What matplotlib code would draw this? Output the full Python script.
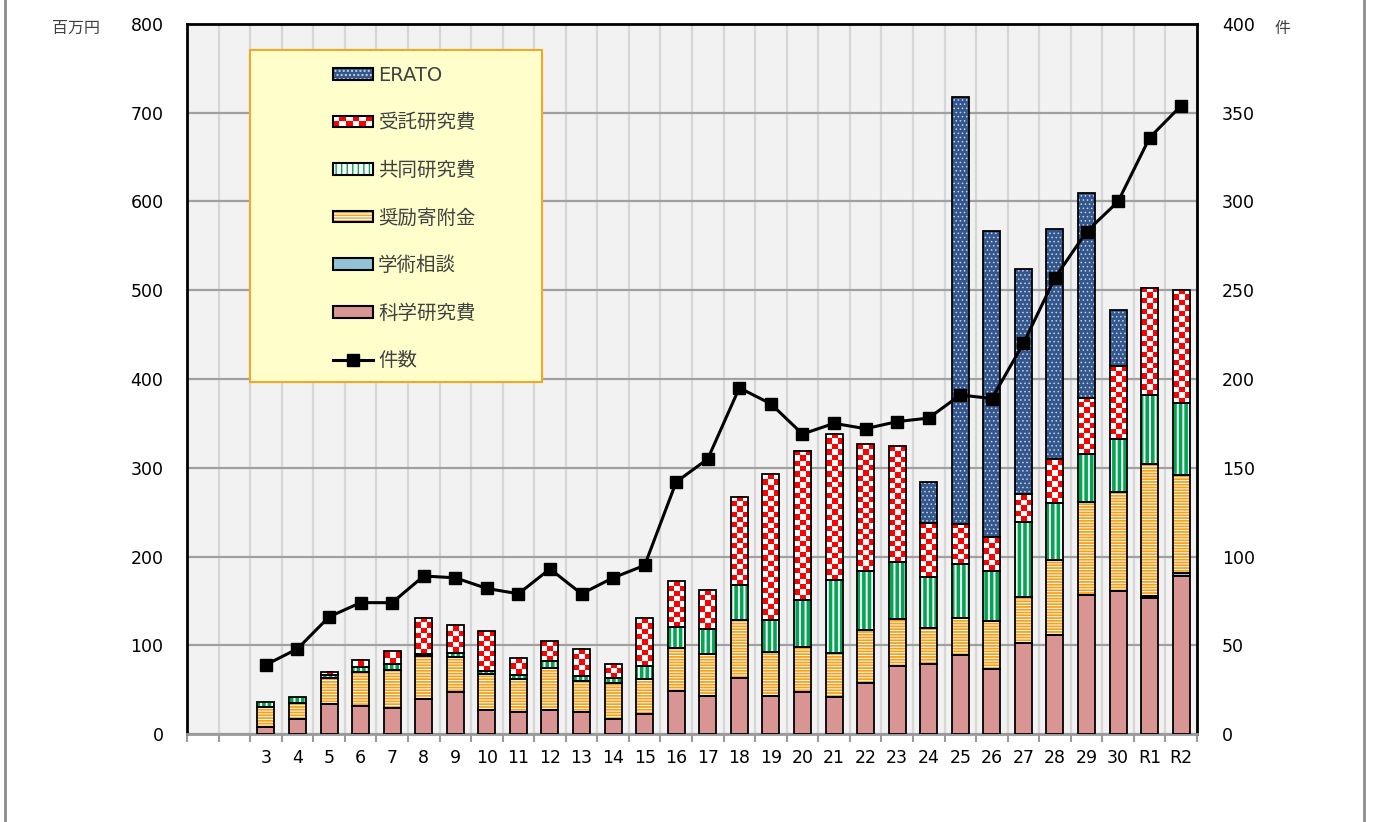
import numpy as np
import matplotlib
matplotlib.use("Agg")
import matplotlib.pyplot as plt
from matplotlib.patches import Rectangle, Patch
from matplotlib.lines import Line2D
from matplotlib.colors import ListedColormap
from matplotlib.legend_handler import HandlerBase

plt.rcParams['font.family'] = ['DejaVu Sans', 'Noto Sans CJK JP']

# ---------------- data ----------------
categories = ['3', '4', '5', '6', '7', '8', '9', '10', '11', '12', '13', '14', '15', '16',
              '17', '18', '19', '20', '21', '22', '23', '24', '25', '26', '27', '28', '29',
              '30', 'R1', 'R2']
kaken = [8, 17, 34, 32, 29, 39, 47, 27, 25, 27, 25, 17, 22, 48.5, 42.5, 63, 42.5, 47, 41.7,
         57, 76.6, 79.3, 88.5, 73, 102, 111, 157, 161, 153.5, 178]
gakujutsu = [0, 0, 0, 0, 0, 0, 0, 0, 0, 0, 0, 0, 0, 0, 0, 0, 0, 0, 0, 0, 0, 0, 0, 0, 0, 0,
             0, 0, 2.5, 3.4]
shorei = [22, 18, 29, 38, 43, 49, 40, 41, 37, 47, 35, 40, 40, 48.5, 48, 65, 50, 51, 50, 60,
          52.6, 40.6, 42, 54, 52, 85.6, 104, 111.5, 147.7, 110.6]
kyodo = [6, 7, 3, 5, 7, 2, 4.5, 3, 4.5, 8.6, 5, 6, 15, 23.7, 28, 39.5, 36.5, 52.5, 82, 66.5,
         64.6, 57, 60.6, 57, 85, 63.5, 54, 59.6, 78, 81]
jutaku = [0, 0, 4, 8, 14, 41, 31, 45, 19.5, 22, 31, 16, 54, 51.5, 44, 100, 163.5, 168, 164.6,
          143, 130.7, 61.3, 45.5, 38, 31, 49.5, 63.5, 82.2, 121, 127.6]
erato = [0, 0, 0, 0, 0, 0, 0, 0, 0, 0, 0, 0, 0, 0, 0, 0, 0, 0, 0, 0, 0, 45.8, 481.6, 345,
         254, 259.7, 231.3, 63, 0, 0]
counts = [39, 48, 66, 74, 74, 89, 88, 82, 79, 93, 79, 88, 95, 142, 155, 195, 186, 169, 175,
          172, 176, 178, 191, 189, 220, 257, 283, 300, 336, 354]

left_ticks = [0, 100, 200, 300, 400, 500, 600, 700, 800]
right_ticks = [0, 50, 100, 150, 200, 250, 300, 350, 400]

# ---------------- styles ----------------
W, H = 1373, 822
def fx(px): return px / W
def fy(py): return 1 - py / H

C_KAKEN = '#D99594'
C_GAKU = '#93C3D6'
C_SHOREI = '#F7A01A'
C_KYODO = '#00A651'
C_JUTAKU = '#FF0000'
C_ERATO = '#33578C'
ERATO_DOT = '#C5D2E6'
BAR_W = 0.54
OUT_LW = 1.3

fig = plt.figure(figsize=(W / 100, H / 100), dpi=100)
ax = fig.add_axes([fx(187), 88 / H, 1010 / W, 710 / H])
ax.set_facecolor('#F2F2F2')

x = np.arange(len(categories)) + 2

def hatched_patch(face, hcolor, hatch, hlw):
    with plt.rc_context({'hatch.linewidth': hlw}):
        p = Patch(facecolor=face, edgecolor=hcolor, hatch=hatch, lw=0)
    if hasattr(p, 'set_hatch_linewidth'):
        p.set_hatch_linewidth(hlw)
    return p

def stacked_fill(vals, bottom, face, hatch=None, hcolor=None, hlw=1.0):
    vals = np.asarray(vals, float)
    m = vals > 0
    with plt.rc_context({'hatch.linewidth': hlw}):
        bars = ax.bar(x[m], vals[m], BAR_W, bottom=bottom[m], facecolor=face,
                      edgecolor=hcolor if hcolor else face, hatch=hatch, linewidth=0, zorder=2)
        for b in bars:
            if hasattr(b, 'set_hatch_linewidth'):
                b.set_hatch_linewidth(hlw)
    ax.bar(x[m], vals[m], BAR_W, bottom=bottom[m], facecolor='none', edgecolor='black',
           linewidth=OUT_LW, zorder=3)
    return bottom + vals

def stacked_checker(vals, bottom, cell=6.0, ncols=3):
    vals = np.asarray(vals, float)
    cmap = ListedColormap(['white', C_JUTAKU])
    for xc, b, h in zip(x, bottom, vals):
        if h <= 0:
            continue
        nrows = max(1, int(round(h / cell)))
        arr = np.add.outer(np.arange(nrows), np.arange(ncols)) % 2
        ax.imshow(arr, cmap=cmap, vmin=0, vmax=1, extent=(xc - BAR_W / 2, xc + BAR_W / 2, b, b + h),
                  origin='lower', interpolation='nearest', aspect='auto', zorder=2)
    m = vals > 0
    ax.bar(x[m], vals[m], BAR_W, bottom=bottom[m], facecolor='none', edgecolor='black',
           linewidth=OUT_LW, zorder=3)
    return bottom + vals

bottom = np.zeros(len(categories))
bottom = stacked_fill(kaken, bottom, C_KAKEN)
bottom = stacked_fill(gakujutsu, bottom, C_GAKU)
bottom = stacked_fill(shorei, bottom, 'white', hatch='------', hcolor=C_SHOREI, hlw=1.3)
bottom = stacked_fill(kyodo, bottom, 'white', hatch='|||', hcolor=C_KYODO, hlw=2.6)
bottom = stacked_checker(jutaku, bottom)
bottom = stacked_fill(erato, bottom, C_ERATO, hatch='....', hcolor=ERATO_DOT, hlw=0.6)

# axes styling
ax.set_xlim(-0.5, 31.5)
ax.set_ylim(0, 800)
ax.set_yticks(left_ticks)
ax.tick_params(axis='y', length=0, pad=17, labelsize=12.5, labelcolor='black')
ax.set_xticks(x)
ax.set_xticklabels(categories)
ax.tick_params(axis='x', which='major', length=0, pad=11, labelsize=12.5)
ax.set_xticks(np.arange(-0.5, 32, 1), minor=True)
ax.tick_params(axis='x', which='minor', length=6, color='#9A9A9A', width=1.5)
ax.grid(axis='x', which='minor', color='#D6D6D6', lw=1.6)
ax.grid(axis='y', which='major', color='#A0A0A0', lw=1.6)
ax.set_axisbelow(True)
for s in ['left', 'top', 'right']:
    ax.spines[s].set_color('black')
    ax.spines[s].set_linewidth(2)
ax.spines['bottom'].set_color('#9A9A9A')
ax.spines['bottom'].set_linewidth(2)

ax2 = ax.twinx()
ax2.set_ylim(0, 400)
ax2.set_yticks(right_ticks)
ax2.tick_params(axis='y', length=0, pad=18, labelsize=12.5)
for s in ax2.spines.values():
    s.set_visible(False)
ax2.plot(x, counts, color='black', lw=2.2, marker='s', ms=8, zorder=5)
ax2.set_xlim(-0.5, 31.5)

# unit labels
fig.text(fx(52), fy(28), '百万円', ha='left', va='center', fontsize=11.5, color='#404040')
fig.text(fx(1275), fy(28), '件', ha='left', va='center', fontsize=11.5, color='#404040')

# figure border lines
for px in (5, 1364):
    fig.add_artist(Line2D([fx(px), fx(px)], [0, 1], transform=fig.transFigure,
                          color='#8C8C8C', lw=2))

# legend
class CheckerProxy:
    pass

class CheckerHandler(HandlerBase):
    def create_artists(self, legend, orig_handle, xdescent, ydescent, width, height,
                       fontsize, trans):
        arts = [Rectangle((-xdescent, -ydescent), width, height, facecolor='white',
                          edgecolor='none', transform=trans)]
        n, m = 6, 2
        cw, ch = width / n, height / m
        for i in range(n):
            for j in range(m):
                if (i + j) % 2 == 0:
                    arts.append(Rectangle((-xdescent + i * cw, -ydescent + j * ch), cw, ch,
                                          facecolor=C_JUTAKU, edgecolor='none', transform=trans))
        arts.append(Rectangle((-xdescent, -ydescent), width, height, facecolor='none',
                              edgecolor='black', lw=1.5, transform=trans))
        return arts

def outline():
    return Patch(facecolor='none', edgecolor='black', lw=1.5)

h_erato = (hatched_patch(C_ERATO, ERATO_DOT, '....', 0.6), outline())
h_jutaku = CheckerProxy()
h_kyodo = (hatched_patch('white', C_KYODO, '|||', 2.6), outline())
h_shorei = (hatched_patch('white', C_SHOREI, '------', 1.3), outline())
h_gaku = Patch(facecolor=C_GAKU, edgecolor='black', lw=1.5)
h_kaken = Patch(facecolor=C_KAKEN, edgecolor='black', lw=1.5)
h_count = Line2D([], [], color='black', lw=2.2, marker='s', ms=8)

legend_labels = ['ERATO', '受託研究費', '共同研究費', '奨励寄附金', '学術相談', '科学研究費', '件数']
frame = Rectangle((fx(250), fy(382)), fx(542) - fx(250), fy(50) - fy(382),
                  transform=fig.transFigure, facecolor='#FFFFCC', edgecolor='#F5A623',
                  lw=1.5, zorder=10, clip_on=False)
ax.add_patch(frame)
leg = ax.legend([h_erato, h_jutaku, h_kyodo, h_shorei, h_gaku, h_kaken, h_count],
                legend_labels, handler_map={CheckerProxy: CheckerHandler()},
                loc='upper left', bbox_to_anchor=(fx(323), fy(56)),
                bbox_transform=fig.transFigure, frameon=False, borderpad=0,
                handlelength=2.06, handleheight=0.55, handletextpad=0.28,
                labelspacing=1.47, fontsize=14, labelcolor='#404040')
leg.set_zorder(11)

fig.savefig('out.png', dpi=100)
